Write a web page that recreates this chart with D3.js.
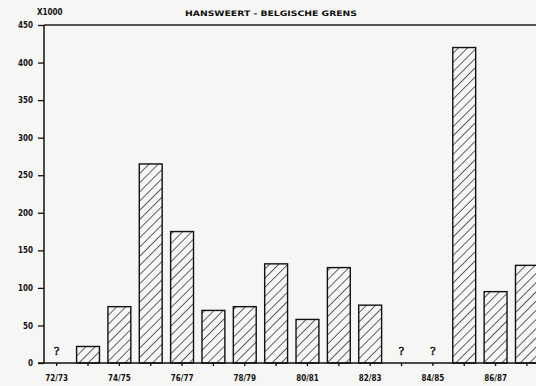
<!DOCTYPE html>
<html><head><meta charset="utf-8">
<script src="https://cdn.jsdelivr.net/npm/d3@7/dist/d3.min.js"></script>
<style>
html,body{margin:0;padding:0;background:#f6f6f4;}
svg{display:block;}
text{font-family:"DejaVu Sans",sans-serif;font-weight:bold;fill:#111;}
</style></head>
<body>
<script>
const categories = ["72/73","73/74","74/75","75/76","76/77","77/78","78/79","79/80","80/81","81/82","82/83","83/84","84/85","85/86","86/87","87/88"];
const values = [null,22,75,265,175,70,75,132,58,127,77,null,null,420,95,130];
const xTickLabels = ["72/73","74/75","76/77","78/79","80/81","82/83","84/85","86/87"];
const yTicks = [0,50,100,150,200,250,300,350,400,450];
const title = "HANSWEERT - BELGISCHE GRENS";
const unitLabel = "X1000";

const W = 536, H = 386;
const svg = d3.select("body").append("svg").attr("width", W).attr("height", H);
svg.append("rect").attr("width", W).attr("height", H).attr("fill", "#f6f6f4");

const defs = svg.append("defs");
const pat = defs.append("pattern").attr("id","hatch").attr("patternUnits","userSpaceOnUse")
  .attr("width", 6.5).attr("height", 6.5).attr("patternTransform","rotate(45)");
pat.append("rect").attr("width",6.5).attr("height",6.5).attr("fill","#f6f6f4");
pat.append("line").attr("x1",0).attr("y1",0).attr("x2",0).attr("y2",6.5)
  .attr("stroke","#111").attr("stroke-width",1.3);

const axisX = 44;
const x = d3.scaleBand().domain(categories).range([41, 542.6]).paddingInner(0.27).paddingOuter(0.135);
const y = d3.scaleLinear().domain([0,450]).range([363,25]);

// bars
svg.append("g").selectAll("rect").data(categories.map((c,i)=>({c,v:values[i]})).filter(d=>d.v!=null))
  .join("rect")
  .attr("x", d=>x(d.c)).attr("width", x.bandwidth())
  .attr("y", d=>y(d.v)).attr("height", d=>y(0)-y(d.v))
  .attr("fill","url(#hatch)").attr("stroke","#111").attr("stroke-width",1.4);

// question marks
svg.append("g").selectAll("text").data(categories.filter((c,i)=>values[i]==null))
  .join("text")
  .attr("x", d=>x(d)+x.bandwidth()/2).attr("y", 355)
  .attr("text-anchor","middle")
  .style("font-family","'Liberation Serif',serif").style("font-weight","normal")
  .style("fill","#111").style("stroke","#111").style("stroke-width","0.5")
  .attr("font-size", 12).text("?");

// y axis
const yAxis = d3.axisLeft(y).tickValues(yTicks).tickSize(6).tickPadding(5).tickFormat(d3.format("d"));
const gy = svg.append("g").attr("transform",`translate(${axisX},0)`).call(yAxis);
gy.select(".domain").remove();
gy.selectAll(".tick line").attr("stroke","#111").attr("stroke-width",1.3);
gy.selectAll(".tick text").attr("font-size",8).style("font-family","'DejaVu Sans Condensed','DejaVu Sans',sans-serif").style("fill","#111");
svg.append("line").attr("x1",axisX).attr("x2",axisX).attr("y1",y(450)).attr("y2",y(0))
  .attr("stroke","#111").attr("stroke-width",1.5);

// top line
svg.append("line").attr("x1",axisX).attr("x2",W).attr("y1",y(450)).attr("y2",y(450))
  .attr("stroke","#222").attr("stroke-width",1.5);

// x axis
const xAxis = d3.axisBottom(x).tickSize(3).tickPadding(9)
  .tickFormat(d => xTickLabels.includes(d) ? d : "");
const gx = svg.append("g").attr("transform",`translate(0,${y(0)})`).call(xAxis);
gx.select(".domain").remove();
gx.selectAll(".tick line").attr("stroke","#111").attr("stroke-width",1.3);
gx.selectAll(".tick text").attr("font-size",8).style("font-family","'DejaVu Sans Condensed','DejaVu Sans',sans-serif").style("fill","#111");
svg.append("line").attr("x1",38).attr("x2",W).attr("y1",y(0)).attr("y2",y(0))
  .attr("stroke","#111").attr("stroke-width",1.6);

// title and unit
svg.append("text").attr("x",271).attr("y",16).attr("text-anchor","middle")
  .attr("font-size",7.5).attr("textLength",172).attr("lengthAdjust","spacingAndGlyphs").text(title);
svg.append("text").attr("x",37).attr("y",15).attr("font-size",8)
  .style("font-family","'DejaVu Sans Condensed','DejaVu Sans',sans-serif").text(unitLabel);
</script>
</body></html>
